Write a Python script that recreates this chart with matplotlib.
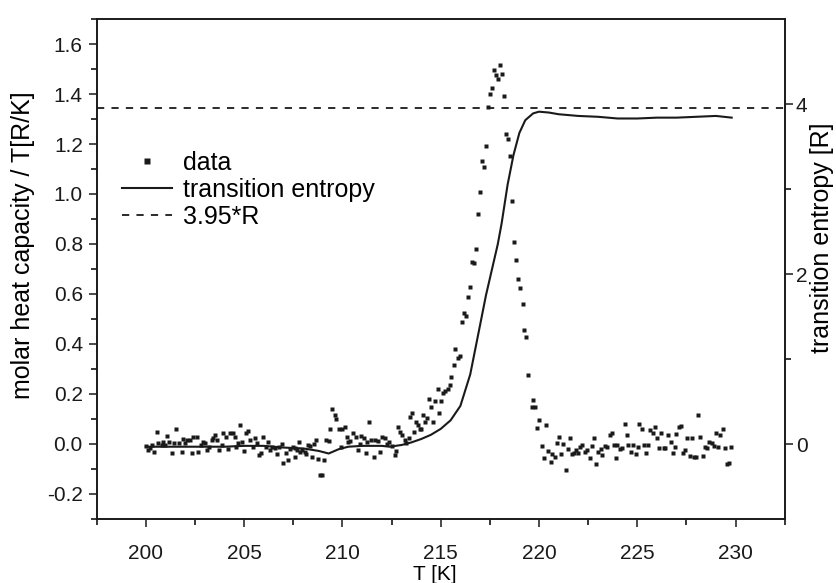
import matplotlib
matplotlib.use("Agg")
import matplotlib.pyplot as plt
from matplotlib.ticker import MultipleLocator, FixedLocator

plt.rcParams['font.family'] = ['Liberation Sans', 'DejaVu Sans']

# ---- data: molar heat capacity / T  [R/K] ----
T_data = [
    200.02, 200.10, 200.20, 200.30, 200.39, 200.59, 200.64, 200.81, 200.89, 200.98,
    201.10, 201.20, 201.32, 201.44, 201.54, 201.66, 201.82, 201.91, 201.99, 202.11,
    202.25, 202.37, 202.42, 202.59, 202.67, 202.79, 202.92, 203.01, 203.13, 203.23,
    203.35, 203.43, 203.52, 203.60, 203.74, 203.85, 203.94, 204.07, 204.19, 204.28,
    204.41, 204.53, 204.58, 204.70, 204.78, 204.87, 204.99, 205.09, 205.21, 205.29,
    205.43, 205.54, 205.66, 205.77, 205.88, 205.97, 206.10, 206.22, 206.31, 206.44,
    206.56, 206.68, 206.78, 206.90, 206.98, 207.12, 207.24, 207.32, 207.46, 207.57,
    207.57, 207.69, 207.79, 207.86, 207.96, 208.08, 208.17, 208.25, 208.37, 208.47,
    208.54, 208.64, 208.76, 208.88, 208.98, 209.06, 209.18, 209.32, 209.38, 209.49,
    209.60, 209.69, 209.82, 209.94, 209.99, 210.11, 210.23, 210.28, 210.40, 210.53,
    210.67, 210.79, 210.87, 210.96, 211.08, 211.18, 211.25, 211.35, 211.46, 211.58,
    211.68, 211.80, 211.89, 212.02, 212.14, 212.26, 212.39, 212.53, 212.65, 212.73,
    212.82, 212.94, 213.04, 213.16, 213.24, 213.36, 213.44, 213.55, 213.66, 213.75,
    213.83, 213.92, 214.00, 214.09, 214.19, 214.29, 214.42, 214.53, 214.63, 214.73,
    214.85, 214.93, 215.03, 215.14, 215.24, 215.35, 215.47, 215.54, 215.66, 215.74,
    215.86, 215.98, 216.08, 216.17, 216.29, 216.40, 216.49, 216.59, 216.71, 216.79,
    216.89, 216.99, 217.08, 217.20, 217.30, 217.40, 217.50, 217.60, 217.72, 217.81,
    217.91, 218.01, 218.11, 218.21, 218.31, 218.42, 218.52, 218.62, 218.74, 218.82,
    218.94, 219.04, 219.16, 219.26, 219.36, 219.46, 219.63, 219.67, 219.80, 219.92,
    220.01, 220.14, 220.26, 220.34, 220.48, 220.60, 220.68, 220.82, 220.92, 221.02,
    221.12, 221.22, 221.36, 221.46, 221.56, 221.66, 221.78, 221.90, 222.00, 222.07,
    222.20, 222.34, 222.46, 222.58, 222.68, 222.80, 222.91, 223.02, 223.13, 223.22,
    223.35, 223.47, 223.59, 223.69, 223.81, 223.93, 223.98, 224.10, 224.23, 224.35,
    224.45, 224.54, 224.67, 224.77, 224.91, 225.01, 225.11, 225.25, 225.35, 225.45,
    225.55, 225.67, 225.79, 225.89, 226.01, 226.09, 226.23, 226.35, 226.43, 226.57,
    226.69, 226.80, 226.91, 226.99, 227.11, 227.23, 227.33, 227.45, 227.55, 227.67,
    227.78, 227.87, 228.00, 228.09, 228.21, 228.33, 228.43, 228.55, 228.66, 228.80,
    228.88, 229.00, 229.10, 229.22, 229.34, 229.44, 229.56, 229.65, 229.75,
]
cp_data = [
    -0.010, -0.025, -0.018, -0.004, -0.031, 0.049, 0.003, -0.004, 0.009, -0.004,
    0.032, 0.009, -0.037, 0.003, 0.059, 0.003, -0.031, 0.019, 0.003, 0.016,
    0.016, -0.037, 0.027, 0.029, -0.031, -0.004, 0.009, 0.005, -0.024, -0.011,
    0.016, 0.023, 0.036, 0.016, -0.024, -0.004, 0.045, 0.029, -0.021, 0.045,
    0.043, 0.029, -0.013, 0.005, 0.076, 0.007, -0.028, 0.043, 0.053, 0.016,
    -0.011, 0.023, 0.003, -0.044, -0.035, 0.029, -0.011, 0.009, -0.024, -0.011,
    -0.017, -0.040, -0.011, 0.000, -0.077, -0.037, -0.064, -0.021, -0.013, -0.017,
    -0.053, -0.024, 0.009, -0.031, -0.024, -0.031, -0.040, -0.004, -0.008, -0.053,
    0.000, 0.016, -0.061, -0.124, -0.124, -0.064, 0.016, 0.013, 0.060, 0.139,
    0.116, 0.099, 0.059, -0.011, 0.059, 0.069, 0.029, 0.009, 0.013, 0.045,
    0.029, -0.024, 0.000, 0.032, 0.023, -0.035, 0.009, 0.089, 0.016, -0.053,
    0.016, 0.013, -0.031, 0.027, 0.023, 0.000, 0.009, -0.008, -0.044, -0.027,
    0.067, 0.049, 0.036, 0.016, 0.005, 0.023, 0.109, 0.123, 0.049, 0.089,
    0.076, 0.059, 0.060, 0.116, 0.089, 0.103, 0.179, 0.149, 0.089, 0.173,
    0.219, 0.123, 0.173, 0.205, 0.213, 0.219, 0.236, 0.269, 0.317, 0.380,
    0.343, 0.353, 0.487, 0.523, 0.513, 0.587, 0.629, 0.729, 0.723, 0.778,
    0.920, 1.009, 1.133, 1.107, 1.193, 1.349, 1.400, 1.425, 1.496, 1.476,
    1.459, 1.516, 1.479, 1.392, 1.240, 1.221, 1.153, 0.972, 0.807, 0.737,
    0.659, 0.623, 0.560, 0.456, 0.429, 0.275, 0.146, 0.176, 0.146, 0.063,
    0.096, -0.008, -0.057, 0.076, -0.027, -0.071, -0.040, -0.051, 0.005, 0.029,
    -0.040, 0.000, -0.104, -0.021, 0.023, -0.040, -0.035, -0.024, -0.035, -0.011,
    -0.004, -0.031, -0.024, -0.057, -0.008, 0.023, -0.080, -0.031, -0.021, -0.044,
    -0.008, -0.011, 0.036, 0.045, -0.004, -0.057, -0.004, -0.021, -0.017, 0.079,
    0.035, -0.004, -0.031, -0.004, -0.040, -0.013, 0.080, 0.059, -0.004, -0.035,
    -0.004, 0.056, 0.043, 0.067, 0.023, -0.017, 0.043, -0.017, -0.017, 0.036,
    0.009, -0.037, -0.011, 0.039, 0.067, 0.073, -0.035, -0.024, 0.023, -0.048,
    0.023, -0.051, -0.051, 0.115, 0.027, -0.048, -0.013, -0.017, 0.009, 0.005,
    -0.008, 0.045, -0.013, 0.036, 0.059, -0.017, -0.080, -0.077, -0.013,
]

# ---- transition entropy [R] (right axis) ----
T_ent = [200.0, 201.0, 202.0, 203.0, 204.0, 205.0, 206.0, 207.0, 208.0, 208.8,
         209.3, 209.8, 210.3, 211.0, 212.0, 212.4, 213.0, 213.5, 214.0, 214.5,
         215.0, 215.5, 216.0, 216.5, 217.0, 217.3, 217.6, 217.9, 218.1, 218.4,
         218.7, 219.0, 219.3, 219.7, 220.0, 220.5, 221.0, 222.0, 223.0, 224.0,
         225.0, 226.0, 227.0, 228.0, 229.0, 229.8]
S_ent = [-0.03, -0.03, -0.03, -0.03, -0.03, -0.02, -0.02, -0.04, -0.05, -0.08,
         -0.11, -0.06, -0.03, -0.02, -0.02, -0.03, -0.01, 0.02, 0.06, 0.11,
         0.18, 0.28, 0.45, 0.82, 1.40, 1.75, 2.05, 2.35, 2.60, 3.05,
         3.40, 3.66, 3.81, 3.89, 3.91, 3.90, 3.88, 3.86, 3.85, 3.83,
         3.83, 3.84, 3.84, 3.85, 3.86, 3.84]

S_ref = 3.95  # 3.95*R

fig = plt.figure(figsize=(8.36, 5.83), dpi=100)
ax = fig.add_axes([0.1157, 0.1098, 0.8230, 0.8576])
ax2 = ax.twinx()

ax.set_xlim(197.5, 232.5)
ax.set_ylim(-0.3, 1.7)
ax2.set_ylim(-0.88, 5.0)

pts, = ax.plot(T_data, cp_data, linestyle='none', marker='s', ms=3.2,
               color='#1a1a1a', mec='none', label='data')
line, = ax2.plot(T_ent, S_ent, color='#1a1a1a', lw=1.5, label='transition entropy')
dash = ax2.axhline(S_ref, color='#1a1a1a', lw=1.3, linestyle=(0, (4, 4)), label='3.95*R')

ax.xaxis.set_major_locator(MultipleLocator(5))
ax.xaxis.set_minor_locator(MultipleLocator(2.5))
ax.yaxis.set_major_locator(MultipleLocator(0.2))
ax.yaxis.set_minor_locator(MultipleLocator(0.1))
ax2.yaxis.set_major_locator(FixedLocator([0, 2, 4]))
ax2.yaxis.set_minor_locator(FixedLocator([1, 3]))
ax.yaxis.set_major_formatter(matplotlib.ticker.FormatStrFormatter('%.1f'))

for a in (ax, ax2):
    a.tick_params(which='major', direction='out', length=6, width=1.1, labelsize=15,
                  colors='#1a1a1a', pad=4)
    a.tick_params(which='minor', direction='out', length=4, width=1.1)
    for s in a.spines.values():
        s.set_linewidth(1.2)
        s.set_color('#1a1a1a')
ax.tick_params(top=False, which='both')
ax.tick_params(axis='x', pad=12)
ax2.tick_params(axis='y', pad=2)

ax.set_xlabel('T [K]', fontsize=15)
ax.set_ylabel('molar heat capacity / T[R/K]', fontsize=18)
ax2.set_ylabel('transition entropy [R]', fontsize=18)
ax.xaxis.set_label_coords(0.492, -0.093)
ax.yaxis.set_label_coords(-0.090, 0.548)
ax2.yaxis.set_label_coords(1.036, 0.562)

ax.legend([pts, line, dash], ['data', 'transition entropy', '3.95*R'],
          loc='upper left', bbox_to_anchor=(0.018, 0.762), frameon=False,
          borderpad=0, handlelength=2.0, handletextpad=0.45, labelspacing=0.12,
          fontsize=18, markerscale=1.3)

fig.savefig('out.png', dpi=100)
